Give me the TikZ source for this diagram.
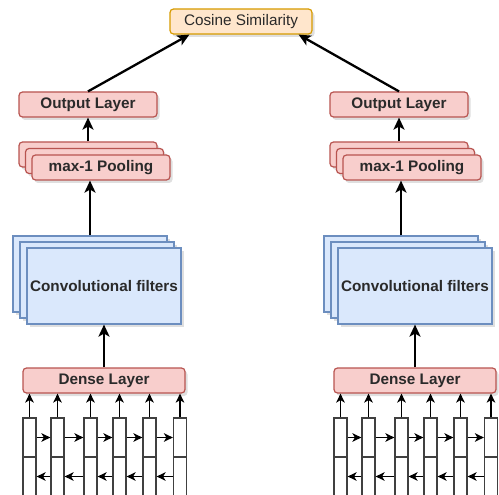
\documentclass[tikz,border=0pt]{standalone}
\usepackage{fontspec}
\setmainfont{Liberation Sans}
\usetikzlibrary{arrows.meta,shadows}

\definecolor{pinkfill}{HTML}{F8CECC}
\definecolor{pinkline}{HTML}{B85450}
\definecolor{bluefill}{HTML}{DAE8FC}
\definecolor{blueline}{HTML}{6C8EBF}
\definecolor{orangefill}{HTML}{FFE6CC}
\definecolor{orangeline}{HTML}{D79B00}
\definecolor{labeltext}{HTML}{2A2A2A}

\tikzset{
  box/.style={draw, line width=1.2pt, inner sep=0pt, text=labeltext,
    font=\fontsize{15.3}{18}\selectfont\bfseries,
    drop shadow={shadow xshift=2.5pt, shadow yshift=-3pt, opacity=0.25}},
  layer/.style={box, rounded corners=3.5pt, fill=pinkfill, draw=pinkline,
    minimum width=138pt, minimum height=25pt},
  filter/.style={box, fill=bluefill, draw=blueline,
    minimum width=154pt, minimum height=76pt},
  cell/.style={draw=black!75, line width=1.2pt, fill=white, inner sep=0pt,
    minimum width=13pt, minimum height=39pt},
  flow/.style={line width=2.3pt, -{Stealth[length=12pt,width=11pt,inset=3pt]}},
  link/.style={line width=1.5pt, -{Stealth[length=9pt,width=8.5pt,inset=2.5pt]}},
}

\newcommand{\branch}[2]{
  \begin{scope}[xshift=#2]
    \node [layer] (#1out) at (88,104.5) {Output Layer};

    \node [layer] (#1poolA) at (88,154.5) {};
    \node [layer] (#1poolB) at (94.5,161) {};
    \node [layer] (#1poolC) at (101,167.5) {max-1 Pooling};

    \node [filter] (#1convA) at (90,274) {};
    \node [filter] (#1convB) at (97,280) {};
    \node [filter] (#1convC) at (104,286) {Convolutional filters};

    \node [layer,minimum width=162pt] (#1dense) at (104,380.5) {Dense Layer};

    \foreach \i/\x in {1/29.5,2/57.5,3/90.5,4/119.5,5/149.5,6/180} {
      \node [cell] (#1t\i) at (\x,437.5) {};
      \node [cell] (#1b\i) at (\x,476.5) {};
      \draw [link] (#1t\i.north) -- (#1t\i.north |- #1dense.south);
    }
    \foreach \i/\j in {1/2,2/3,3/4,4/5,5/6} {
      \draw [link] (#1t\i.east) -- (#1t\j.west);
      \draw [link] (#1b\j.west) -- (#1b\i.east);
    }

    \draw [flow] (#1dense.north) -- (#1convC.south);
    \draw [flow] (#1convA.north) -- (#1convA.north |- #1poolC.south);
    \draw [flow] (#1poolA.north) -- (#1out.south);
  \end{scope}
}

\begin{document}
\begin{tikzpicture}[x=1pt,y=-1pt]
  \useasboundingbox (0,0) rectangle (499,495);
  \clip (0,0) rectangle (499,495);

  \node [box,rounded corners=3.5pt,fill=orangefill,draw=orangeline,
    font=\fontsize{15.3}{18}\selectfont,minimum width=142pt,
    minimum height=25pt] (cos) at (241,21.5) {Cosine Similarity};

  \branch{L}{0pt}
  \branch{R}{311pt}

  \draw [flow] (Lout.north) -- ([xshift=20pt]cos.south west);
  \draw [flow] (Rout.north) -- ([xshift=-14pt]cos.south east);
\end{tikzpicture}
\end{document}
